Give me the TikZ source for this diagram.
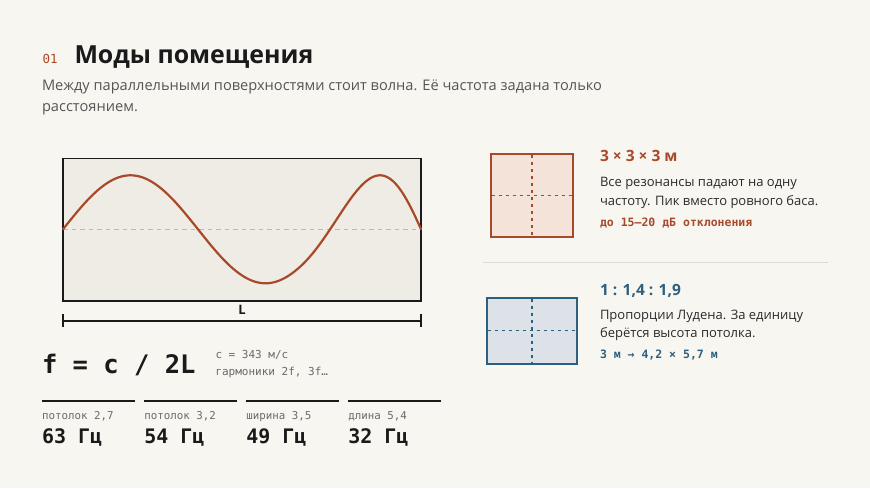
\documentclass[tikz,border=0pt]{standalone}
\usepackage{fontspec}
\setmainfont{Open Sans}
\newfontfamily\monof{DejaVu Sans Mono}
\definecolor{bg}{HTML}{F8F6F1}
\definecolor{boxfill}{HTML}{EFECE5}
\definecolor{rust}{HTML}{A84A2A}
\definecolor{rustfill}{HTML}{F4E3D9}
\definecolor{steel}{HTML}{2D5F7E}
\definecolor{steelfill}{HTML}{DCE2E7}
\definecolor{ink}{HTML}{1A1A1A}
\definecolor{body}{HTML}{2A2A2A}
\definecolor{sub}{HTML}{555555}
\definecolor{mgray}{HTML}{6A6A6A}
\definecolor{sep}{HTML}{DDDAD3}
\begin{document}
\begin{tikzpicture}[x=1pt,y=-1pt,
  txt/.style={anchor=base west,inner sep=0pt,outer sep=0pt},
  statline/.style={draw=ink,line width=2pt},
  statlbl/.style={txt,text=mgray,font=\monof\fontsize{10.8}{13}\selectfont},
  statval/.style={txt,text=ink,font=\monof\bfseries\fontsize{20}{24}\selectfont},
  cardtitle/.style={txt,font=\bfseries\fontsize{15.5}{18}\selectfont},
  cardbody/.style={txt,text=body,font=\fontsize{13}{18}\selectfont},
  cardmono/.style={txt,font=\monof\bfseries\fontsize{11.5}{13}\selectfont},
  crossline/.style={line width=1.3pt,dash pattern=on 3.2pt off 3.8pt},
]
\fill[bg] (0,0) rectangle (870,488);
\useasboundingbox (0,0) rectangle (870,488);

% heading
\node[txt,text=rust,font=\monof\fontsize{12.5}{14}\selectfont] (num) at (42.5,63.3) {01};
\node[txt,text=ink,font=\bfseries\fontsize{24.9}{30}\selectfont] (title) at (74.5,63.3) {Моды помещения};
\node[txt,text=sub,font=\fontsize{14.6}{21}\selectfont] (sub1) at (42,90) {Между параллельными поверхностями стоит волна. Её частота задана только};
\node[txt,text=sub,font=\fontsize{14.6}{21}\selectfont] (sub2) at (42,111.5) {расстоянием.};

% wave box
\filldraw[fill=boxfill,draw=ink,line width=1.6pt] (62.7,158.3) rectangle (421,300.7);
\draw[gray!55,line width=0.8pt,dash pattern=on 4.5pt off 4pt] (63,229.3) -- (421,229.3);
\draw[rust,line width=2.2pt,line cap=round,line join=round]
  plot[domain=63:421,samples=180,variable=\t] (\t,{229.3-54*sin((\t-63)*4/3+0.00428*max(\t-300,0)^2)});

% dimension
\coordinate (dl) at (63,321);
\coordinate (dr) at (421,321);
\draw[ink,line width=1.3pt] (dl) -- (dr);
\draw[ink,line width=1.3pt] (63,314) -- (63,327) (421,314) -- (421,327);
\node[txt,anchor=base,text=ink,font=\bfseries\fontsize{13}{15}\selectfont] (Llbl) at (242,314) {L};

% formula
\node[txt,text=ink,font=\monof\bfseries\fontsize{25.5}{30}\selectfont] (formula) at (42,373.3) {f = c / 2L};
\node[txt,text=mgray,font=\monof\fontsize{11}{13}\selectfont] (c1) at (215.5,358.3) {c = 343 м/с};
\node[txt,text=mgray,font=\monof\fontsize{11}{13}\selectfont] (c2) at (215.5,375) {гармоники 2f, 3f…};

% stats
\draw[statline] (42,400.7) -- (135.3,400.7);
\draw[statline] (144.3,400.7) -- (237.3,400.7);
\draw[statline] (246.3,400.7) -- (339.3,400.7);
\draw[statline] (348.3,400.7) -- (441.3,400.7);
\node[statlbl] (l1) at (42,419.3) {потолок 2,7};
\node[statlbl] (l2) at (144.3,419.3) {потолок 3,2};
\node[statlbl] (l3) at (246.3,419.3) {ширина 3,5};
\node[statlbl] (l4) at (348.3,419.3) {длина 5,4};
\node[statval] (v1) at (42,443.3) {63 Гц};
\node[statval] (v2) at (144.3,443.3) {54 Гц};
\node[statval] (v3) at (246.3,443.3) {49 Гц};
\node[statval] (v4) at (348.3,443.3) {32 Гц};

% card 1
\filldraw[fill=rustfill,draw=rust,line width=1.8pt] (490.7,154) rectangle (573.3,236.7);
\draw[rust,crossline] (532,155) -- (532,236) (491.5,195.3) -- (572.5,195.3);
\node[cardtitle,text=rust] (t1) at (600,161.7) {3 × 3 × 3 м};
\node[cardbody] (b1a) at (600,186.5) {Все резонансы падают на одну};
\node[cardbody] (b1b) at (600,205) {частоту. Пик вместо ровного баса.};
\node[cardmono,text=rust] (m1) at (600,226) {до 15–20 дБ отклонения};

\draw[sep,line width=1pt] (483,262) -- (828,262);

% card 2
\filldraw[fill=steelfill,draw=steel,line width=1.8pt] (486.7,297.7) rectangle (577.3,364.3);
\draw[steel,crossline] (532,298.5) -- (532,363.5) (487.5,330.5) -- (576.5,330.5);
\node[cardtitle,text=steel] (t2) at (600,295) {1 : 1,4 : 1,9};
\node[cardbody] (b2a) at (600,319.3) {Пропорции Лудена. За единицу};
\node[cardbody] (b2b) at (600,337) {берётся высота потолка.};
\node[cardmono,text=steel] (m2) at (600,358.3) {3 м → 4,2 × 5,7 м};
\end{tikzpicture}
\end{document}
